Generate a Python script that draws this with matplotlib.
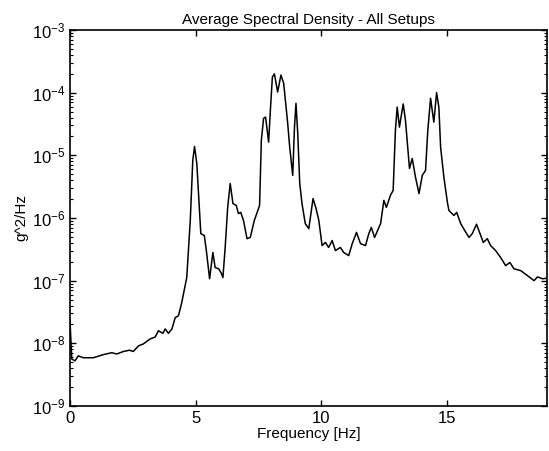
import numpy as np
import matplotlib
matplotlib.use("Agg")
import matplotlib.pyplot as plt
import matplotlib.ticker as ticker

plt.rcParams['font.family'] = ['Liberation Sans', 'DejaVu Sans']

# frequency [Hz] and log10 of the averaged PSD [g^2/Hz]
freq = [0.00, 0.07, 0.20, 0.33, 0.53, 0.93, 1.33, 1.66, 1.86, 2.13, 2.37, 2.52,
        2.73, 2.92, 3.19, 3.39, 3.52, 3.70, 3.79, 3.92, 4.06, 4.19, 4.32, 4.45,
        4.52, 4.65, 4.79, 4.89, 4.96, 5.05, 5.12, 5.21, 5.35, 5.43, 5.56, 5.69,
        5.78, 5.92, 6.01, 6.09, 6.18, 6.28, 6.38, 6.49, 6.62, 6.71, 6.80, 6.91,
        7.05, 7.18, 7.34, 7.55, 7.62, 7.71, 7.79, 7.91, 7.98, 8.06, 8.14, 8.27,
        8.40, 8.51, 8.67, 8.75, 8.87, 8.94, 9.00, 9.07, 9.15, 9.24, 9.37, 9.51,
        9.68, 9.80, 9.91, 10.04, 10.17, 10.30, 10.44, 10.57, 10.77, 10.90, 11.10, 11.24,
        11.41, 11.57, 11.77, 11.90, 12.00, 12.13, 12.37, 12.50, 12.60, 12.76, 12.87, 12.96,
        13.03, 13.12, 13.27, 13.36, 13.45, 13.52, 13.63, 13.76, 13.90, 14.03, 14.16, 14.25,
        14.36, 14.49, 14.60, 14.69, 14.76, 14.89, 15.03, 15.09, 15.29, 15.40, 15.56, 15.72,
        15.89, 16.02, 16.19, 16.33, 16.46, 16.62, 16.75, 16.95, 17.15, 17.35, 17.52, 17.68,
        17.95, 18.22, 18.48, 18.62, 18.82, 19.00]
log_psd = [-7.64, -8.25, -8.28, -8.20, -8.23, -8.23, -8.18, -8.15, -8.17, -8.13, -8.11, -8.13,
           -8.04, -8.01, -7.93, -7.90, -7.80, -7.84, -7.77, -7.84, -7.77, -7.59, -7.56, -7.35,
           -7.21, -6.95, -6.04, -5.08, -4.86, -5.13, -5.61, -6.25, -6.28, -6.52, -6.97, -6.55,
           -6.79, -6.81, -6.87, -6.95, -6.47, -5.83, -5.45, -5.77, -5.80, -5.93, -5.91, -6.04,
           -6.33, -6.31, -6.04, -5.80, -4.76, -4.41, -4.39, -4.79, -4.28, -3.75, -3.70, -3.99,
           -3.72, -3.85, -4.49, -4.87, -5.32, -4.55, -4.17, -4.65, -5.45, -5.77, -6.09, -6.17,
           -5.69, -5.85, -6.04, -6.44, -6.39, -6.47, -6.36, -6.52, -6.47, -6.55, -6.60, -6.41,
           -6.23, -6.41, -6.44, -6.25, -6.15, -6.31, -6.09, -5.72, -5.83, -5.64, -5.56, -4.60,
           -4.23, -4.55, -4.18, -4.44, -4.87, -5.21, -5.05, -5.35, -5.61, -5.32, -5.24, -4.60,
           -4.09, -4.47, -4.00, -4.23, -4.87, -5.35, -5.75, -5.88, -5.96, -5.91, -6.09, -6.20,
           -6.31, -6.25, -6.10, -6.25, -6.39, -6.33, -6.44, -6.52, -6.63, -6.76, -6.71, -6.81,
           -6.84, -6.92, -7.00, -6.94, -6.97, -6.96]

psd = 10.0 ** np.array(log_psd)

fig = plt.figure(figsize=(5.49, 4.51), dpi=100)
ax = fig.add_axes([0.1275, 0.0998, 0.869, 0.8337])
ax.semilogy(freq, psd, color='black', linewidth=1.1)

ax.set_xlim(0, 19)
ax.set_ylim(1e-9, 1e-3)
ax.set_xticks([0, 5, 10, 15])
ax.yaxis.set_major_locator(ticker.LogLocator(base=10, numticks=10))
ax.yaxis.set_minor_locator(ticker.LogLocator(base=10, subs=np.arange(2, 10), numticks=20))
ax.yaxis.set_minor_formatter(ticker.NullFormatter())
ax.tick_params(which='both', direction='in', top=True, right=True, labelsize=12)
ax.tick_params(which='major', length=4, width=1)
ax.tick_params(which='minor', length=2, width=0.8)
for s in ax.spines.values():
    s.set_linewidth(1.2)

ax.set_title('Average Spectral Density - All Setups', fontsize=11, pad=4)
ax.set_xlabel('Frequency [Hz]', fontsize=11, labelpad=1)
ax.set_ylabel('g^2/Hz', fontsize=11, labelpad=2)

fig.savefig('out.png', dpi=100)
